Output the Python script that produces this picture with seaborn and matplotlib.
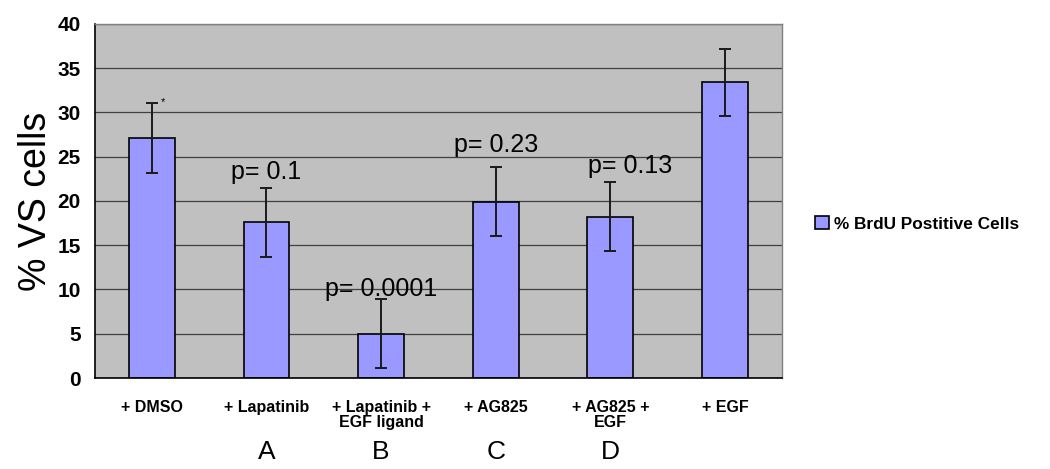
import matplotlib
matplotlib.use("Agg")
import matplotlib.pyplot as plt
import matplotlib.transforms as mtransforms
import seaborn as sns
import pandas as pd

# Veriler
categories = ["+ DMSO", "+ Lapatinib", "+ Lapatinib +\nEGF ligand", "+ AG825", "+ AG825 +\nEGF", "+ EGF"]
brdu_pct = [27.1, 17.6, 5.0, 19.9, 18.2, 33.4]
brdu_err = [3.95, 3.9, 3.9, 3.9, 3.9, 3.8]
p_labels = ["", "p= 0.1", "p= 0.0001", "p= 0.23", "p= 0.13", ""]
p_y = [0, 23.3, 10.0, 26.3, 24.0, 0]
group_letters = ["", "A", "B", "C", "D", ""]
series_name = "% BrdU Postitive Cells"

df = pd.DataFrame({"Condition": categories, "BrdU": brdu_pct})

sns.set_style("white")
plt.rcParams["font.family"] = ["Liberation Sans", "DejaVu Sans"]
plt.rcParams.update({"text.color": "black", "axes.labelcolor": "black",
                     "xtick.color": "black", "ytick.color": "black"})

fig = plt.figure(figsize=(10.5, 4.69), dpi=100)
ax = fig.add_axes([0.09, 0.194, 0.655, 0.755])
ax.set_facecolor("#C0C0C0")

sns.barplot(data=df, x="Condition", y="BrdU", color="#9999FF", edgecolor="black",
            linewidth=1.2, width=0.4, saturation=1, label=series_name, ax=ax, zorder=2)
ax.errorbar(range(len(categories)), brdu_pct, yerr=brdu_err, fmt="none",
            ecolor="#1a1a1a", elinewidth=1.4, capsize=4, capthick=1.4, zorder=3)

# p değerleri
for i, (txt, yy) in enumerate(zip(p_labels, p_y)):
    if txt:
        dx = 0.17 if i == 4 else 0.0
        ax.text(i + dx, yy, txt, ha="center", va="center", fontsize=18, zorder=4)
ax.text(0.08, 31.2, "*", ha="left", va="center", fontsize=8, zorder=4)

# A-D harfleri
trans = mtransforms.blended_transform_factory(ax.transData, ax.transAxes)
for i, letter in enumerate(group_letters):
    if letter:
        ax.text(i, -0.21, letter, ha="center", va="center", fontsize=19, transform=trans)

ax.set_ylim(0, 40)
ax.set_xlim(-0.5, len(categories) - 0.5)
ax.set_yticks(range(0, 41, 5))
ax.yaxis.grid(True, color="#404040", linewidth=0.9, zorder=0)
ax.set_axisbelow(True)

ax.set_xticks(range(len(categories)))
ax.set_xticklabels(categories, fontsize=11.5, fontweight="bold", linespacing=0.95)
ax.set_xticks([x - 0.5 for x in range(len(categories) + 1)], minor=True)
ax.tick_params(axis="x", which="major", length=0, pad=16)
ax.tick_params(axis="x", which="minor", length=5, width=1.2, color="black", direction="out")
ax.tick_params(axis="y", length=6, width=1.2, color="black", direction="out",
               labelsize=15, pad=4)
for lbl in ax.get_yticklabels():
    lbl.set_fontweight("bold")

ax.set_xlabel("")
ax.set_ylabel("% VS cells", fontsize=27, labelpad=2)

for side in ["left", "bottom"]:
    ax.spines[side].set_color("black")
    ax.spines[side].set_linewidth(1.2)
for side in ["top", "right"]:
    ax.spines[side].set_color("#808080")
    ax.spines[side].set_linewidth(1.0)

leg = ax.legend(loc="center left", bbox_to_anchor=(1.025, 0.435), frameon=False,
                prop={"weight": "bold", "size": 12.4}, handlelength=0.8, handleheight=0.8,
                handletextpad=0.3)

plt.savefig("out.png", dpi=100)
